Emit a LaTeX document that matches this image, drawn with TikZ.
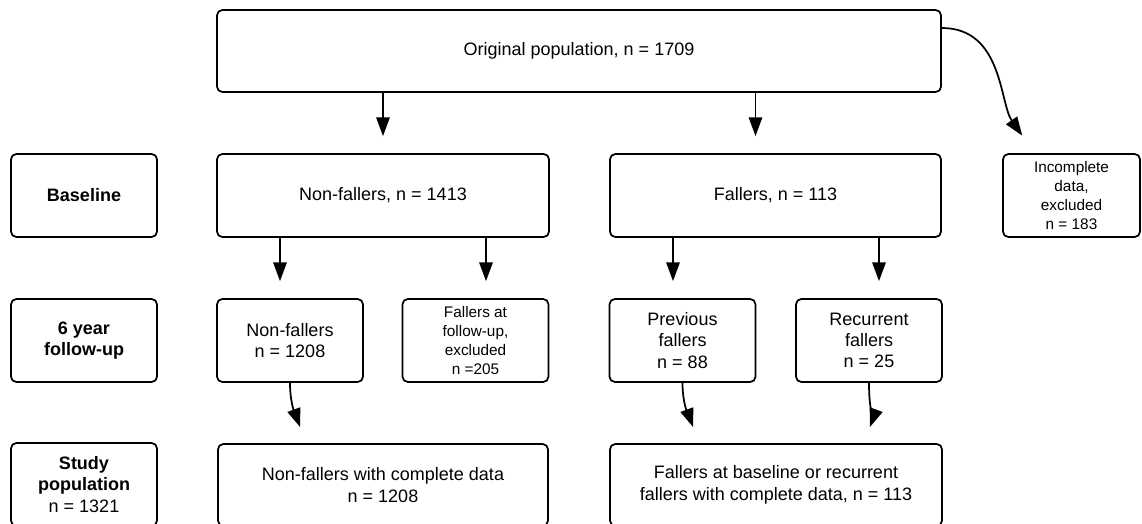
\documentclass[tikz,border=0pt]{standalone}
\usepackage{fontspec}
\setmainfont{Liberation Sans}
\usetikzlibrary{arrows.meta,calc}

\begin{document}
\begin{tikzpicture}[x=0.75pt,y=-0.75pt, every node/.style={align=center,font=\fontsize{13.5}{16}\selectfont}]
\tikzset{box/.style={draw,line width=1.3pt,rounded corners=4pt,inner sep=2pt,minimum height=62.25pt},
  stagelabel/.style={box,minimum width=109.5pt,font=\fontsize{13.5}{16}\selectfont\bfseries},
  smallbox/.style={box,minimum width=109.5pt},
  tinytext/.style={font=\fontsize{11.5}{14.25}\selectfont},
  arr/.style={-{Triangle[length=14pt,width=10pt]},line width=1.3pt,shorten >=12.75pt}}
\useasboundingbox (0,0) rectangle (1142,524);
\clip (0,0) rectangle (1142,524);
% stage labels
\node[stagelabel] (base) at (84,195.5) {Baseline};
\node[stagelabel] (follow) at (84,340.5) {6 year\\follow-up};
\node[stagelabel,minimum height=62.25pt] (study) at (84,484.5) {Study\\population\\\mdseries n = 1321};
% population boxes
\node[box,minimum width=543pt,minimum height=61.5pt] (orig) at (579,51) {Original population, n = 1709};
\node[box,minimum width=249pt] (nonf) at (383,195.5) {Non-fallers, n = 1413};
\node[box,minimum width=248.25pt] (fall) at (775.5,195.5) {Fallers, n = 113};
\node[box,tinytext,minimum width=102.75pt] (incomp) at (1071.5,195.5) {Incomplete\\data,\\excluded\\n = 183};
\node[smallbox] (nf1208) at (290,340.5) {Non-fallers\\n = 1208};
\node[smallbox,tinytext] (fexcl) at (475.5,340.5) {Fallers at\\follow-up,\\excluded\\n =205};
\node[smallbox] (prev) at (682.5,340.5) {Previous\\fallers\\n = 88};
\node[smallbox] (recur) at (869,340.5) {Recurrent\\fallers\\n = 25};
\node[box,minimum width=247.5pt,minimum height=61.5pt] (nfcomp) at (383,485) {Non-fallers with complete data\\n = 1208};
\node[box,minimum width=249pt,minimum height=61.5pt] (fcomp) at (776,485) {Fallers at baseline or recurrent\\fallers with complete data, n = 113};
% arrows
\draw[arr] (nonf.north |- orig.south) -- (nonf.north);
\draw[arr] ($(fall.north |- orig.south)+(-20,0)$) -- ($(fall.north)+(-20,0)$);
\draw[arr,shorten >=16pt] ($(orig.east)+(0,-23)$) to[out=0,in=125] ($(incomp.north)+(-37,0)$);
\draw[arr] ($(nf1208.north |- nonf.south)+(-10,0)$) -- ($(nf1208.north)+(-10,0)$);
\draw[arr] ($(fexcl.north |- nonf.south)+(10.5,0)$) -- ($(fexcl.north)+(10.5,0)$);
\draw[arr] ($(prev.north |- fall.south)+(-9.5,0)$) -- ($(prev.north)+(-9.5,0)$);
\draw[arr] ($(recur.north |- fall.south)+(10,0)$) -- ($(recur.north)+(10,0)$);
\draw[arr] (nf1208.south) to[out=-90,in=110] ($(nfcomp.north)+(-77,0)$);
\draw[arr] (prev.south) to[out=-90,in=110] ($(fcomp.north)+(-77,0)$);
\draw[arr] (recur.south) to[out=-90,in=70] ($(fcomp.north)+(88,0)$);
\end{tikzpicture}
\end{document}
